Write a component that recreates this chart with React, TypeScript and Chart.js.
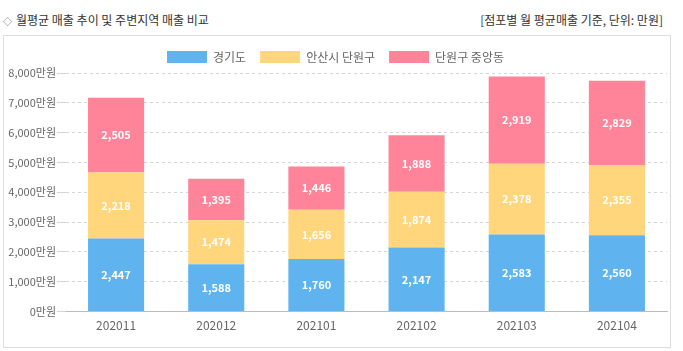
import React, { useEffect, useRef } from "react";
import { Chart, registerables } from "chart.js";

Chart.register(...registerables);

const categories = ["202011", "202012", "202101", "202102", "202103", "202104"];
const seriesNames = ["경기도", "안산시 단원구", "단원구 중앙동"];
const gyeonggi = [2447, 1588, 1760, 2147, 2583, 2560];
const ansan = [2218, 1474, 1656, 1874, 2378, 2355];
const jungang = [2505, 1395, 1446, 1888, 2919, 2829];
const colors = ["#5fb4ef", "#ffd67b", "#ff8399"];
const yTicks = [0, 1000, 2000, 3000, 4000, 5000, 6000, 7000, 8000];

const FONT = "'Noto Sans CJK KR', 'Noto Sans', sans-serif";

const labelPlugin = {
  id: "segLabels",
  afterDatasetsDraw(chart: any) {
    const ctx = chart.ctx;
    ctx.save();
    ctx.font = `bold 11px ${FONT}`;
    ctx.fillStyle = "#ffffff";
    ctx.textAlign = "center";
    ctx.textBaseline = "middle";
    chart.data.datasets.forEach((ds: any, i: number) => {
      const meta = chart.getDatasetMeta(i);
      meta.data.forEach((bar: any, j: number) => {
        const y = (bar.y + bar.base) / 2;
        ctx.fillText(Number(ds.data[j]).toLocaleString("en-US"), bar.x, y);
      });
    });
    ctx.restore();
  },
};

export default function App() {
  const ref = useRef<HTMLCanvasElement>(null);
  useEffect(() => {
    document.body.style.margin = "0";
    const chart = new Chart(ref.current!, {
      type: "bar",
      data: {
        labels: categories,
        datasets: [gyeonggi, ansan, jungang].map((d, i) => ({
          label: seriesNames[i],
          data: d,
          backgroundColor: colors[i],
          borderWidth: 0,
          categoryPercentage: 0.8,
          barPercentage: 0.7,
        })),
      },
      options: {
        animation: false,
        responsive: false,
        maintainAspectRatio: false,
        layout: { padding: { top: 1, right: 3, left: 0, bottom: 7 } },
        plugins: {
          legend: {
            position: "top",
            labels: {
              boxWidth: 40,
              boxHeight: 12,
              padding: 14,
              color: "#666",
              font: { family: FONT, size: 12 },
            },
          },
          tooltip: { enabled: false },
        },
        scales: {
          x: {
            stacked: true,
            grid: { display: false, drawTicks: false },
            border: { color: "#bbb" },
            ticks: { color: "#666", font: { family: FONT, size: 12 }, padding: 7 },
          },
          y: {
            stacked: true,
            min: 0,
            max: 8000,
            afterBuildTicks: (axis: any) => {
              axis.ticks = yTicks.map((v) => ({ value: v }));
            },
            afterFit: (axis: any) => {
              axis.width = 62;
            },
            grid: { color: "#d6d6d6", tickLength: 9 },
            border: { display: false, dash: [3, 3] },
            ticks: {
              color: "#666",
              font: { family: FONT, size: 11 },
              padding: 1,
              callback: (v: any) => Number(v).toLocaleString("en-US") + "만원",
            },
          },
        },
      },
      plugins: [labelPlugin],
    });
    return () => chart.destroy();
  }, []);

  return (
    <div style={{ position: "relative", width: 683, height: 351, fontFamily: FONT, background: "#fff" }}>
      <div style={{ position: "absolute", left: 3, top: 11, fontSize: 12, color: "#333" }}>
        <span style={{ fontSize: 9, color: "#666", marginRight: 4 }}>◇</span>월평균 매출 추이 및 주변지역 매출 비교
      </div>
      <div style={{ position: "absolute", right: 20, top: 11, fontSize: 12, color: "#333" }}>
        [점포별 월 평균매출 기준, 단위: 만원]
      </div>
      <div style={{ position: "absolute", left: 3, top: 35, width: 666, height: 311, border: "1px solid #ddd" }}>
        <canvas ref={ref} width={666} height={311} style={{ display: "block" }} />
      </div>
    </div>
  );
}
